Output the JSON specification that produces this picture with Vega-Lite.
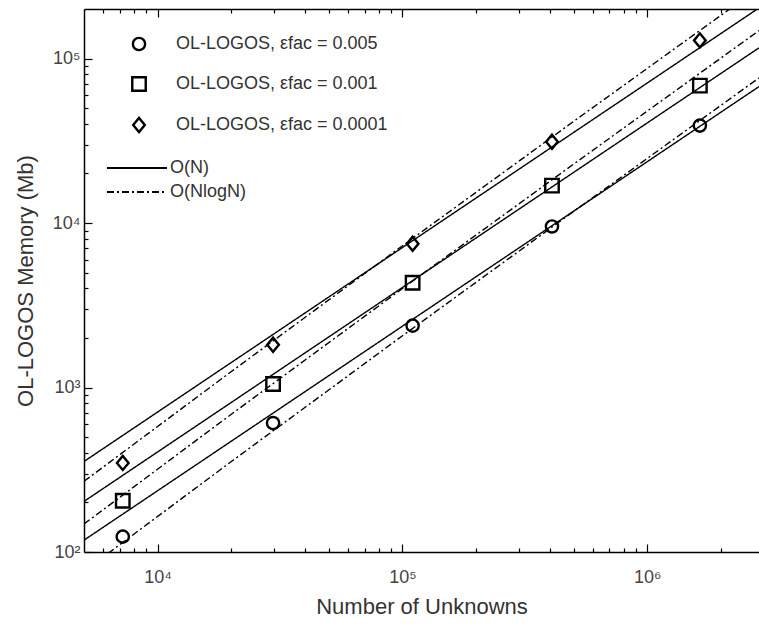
{
  "$schema": "https://vega.github.io/schema/vega-lite/v6.json",
  "width": 675,
  "height": 543,
  "autosize": {"type": "none"},
  "padding": {"left": 84, "top": 9, "right": 0, "bottom": 73},
  "background": "white",
  "config": {
    "view": {"stroke": null},
    "font": "Liberation Sans",
    "axis": {"labelFont": "Liberation Sans", "titleFont": "Liberation Sans"},
    "legend": {"labelFont": "Liberation Sans", "labelLimit": 400}
  },
  "datasets": {
    "lines": [
      {"line": "C-N", "fit": "O(N)", "N": 5000, "mem": 118},
      {"line": "C-N", "fit": "O(N)", "N": 2860000, "mem": 67500},
      {"line": "S-N", "fit": "O(N)", "N": 5000, "mem": 203},
      {"line": "S-N", "fit": "O(N)", "N": 2860000, "mem": 116120},
      {"line": "D-N", "fit": "O(N)", "N": 5000, "mem": 355},
      {"line": "D-N", "fit": "O(N)", "N": 2860000, "mem": 203060},
      {"line": "C-NlogN", "fit": "O(NlogN)", "N": 5000, "mem": 76.3},
      {"line": "C-NlogN", "fit": "O(NlogN)", "N": 20000, "mem": 355},
      {"line": "C-NlogN", "fit": "O(NlogN)", "N": 100000, "mem": 2063},
      {"line": "C-NlogN", "fit": "O(NlogN)", "N": 500000, "mem": 11760},
      {"line": "C-NlogN", "fit": "O(NlogN)", "N": 2860000, "mem": 76200},
      {"line": "S-NlogN", "fit": "O(NlogN)", "N": 5000, "mem": 148},
      {"line": "S-NlogN", "fit": "O(NlogN)", "N": 20000, "mem": 688},
      {"line": "S-NlogN", "fit": "O(NlogN)", "N": 100000, "mem": 4001},
      {"line": "S-NlogN", "fit": "O(NlogN)", "N": 500000, "mem": 22800},
      {"line": "S-NlogN", "fit": "O(NlogN)", "N": 2860000, "mem": 147750},
      {"line": "D-NlogN", "fit": "O(NlogN)", "N": 5000, "mem": 269},
      {"line": "D-NlogN", "fit": "O(NlogN)", "N": 20000, "mem": 1251},
      {"line": "D-NlogN", "fit": "O(NlogN)", "N": 100000, "mem": 7273},
      {"line": "D-NlogN", "fit": "O(NlogN)", "N": 500000, "mem": 41450},
      {"line": "D-NlogN", "fit": "O(NlogN)", "N": 2860000, "mem": 268600}
    ],
    "points": [
      {"series": "OL-LOGOS, εfac = 0.005", "N": 7200, "mem": 124},
      {"series": "OL-LOGOS, εfac = 0.005", "N": 29600, "mem": 608},
      {"series": "OL-LOGOS, εfac = 0.005", "N": 110000, "mem": 2377},
      {"series": "OL-LOGOS, εfac = 0.005", "N": 408000, "mem": 9530},
      {"series": "OL-LOGOS, εfac = 0.005", "N": 1640000, "mem": 39100},
      {"series": "OL-LOGOS, εfac = 0.001", "N": 7200, "mem": 205},
      {"series": "OL-LOGOS, εfac = 0.001", "N": 29600, "mem": 1050},
      {"series": "OL-LOGOS, εfac = 0.001", "N": 110000, "mem": 4335},
      {"series": "OL-LOGOS, εfac = 0.001", "N": 408000, "mem": 16870},
      {"series": "OL-LOGOS, εfac = 0.001", "N": 1640000, "mem": 68400},
      {"series": "OL-LOGOS, εfac = 0.0001", "N": 7200, "mem": 348},
      {"series": "OL-LOGOS, εfac = 0.0001", "N": 29600, "mem": 1820},
      {"series": "OL-LOGOS, εfac = 0.0001", "N": 110000, "mem": 7480},
      {"series": "OL-LOGOS, εfac = 0.0001", "N": 408000, "mem": 31190},
      {"series": "OL-LOGOS, εfac = 0.0001", "N": 1640000, "mem": 128900}
    ]
  },
  "layer": [
    {
      "data": {"name": "lines"},
      "mark": {"type": "line", "clip": true, "color": "black", "strokeWidth": 1.4},
      "encoding": {
        "x": {
          "field": "N", "type": "quantitative",
          "scale": {"type": "log", "domain": [5000, 2860000], "nice": false},
          "axis": {
            "orient": "bottom",
            "values": [6000, 7000, 8000, 9000, 10000, 20000, 30000, 40000, 50000, 60000, 70000, 80000, 90000, 100000, 200000, 300000, 400000, 500000, 600000, 700000, 800000, 900000, 1000000, 2000000],
            "labelExpr": "datum.value == 10000 ? '10⁴' : datum.value == 100000 ? '10⁵' : datum.value == 1000000 ? '10⁶' : ''",
            "tickSize": {"condition": {"test": "datum.value == 10000 || datum.value == 100000 || datum.value == 1000000", "value": -8}, "value": -4},
            "tickColor": "black", "tickWidth": 1.2,
            "domainColor": "black", "domainWidth": 1.5,
            "labelFontSize": 18, "labelColor": "#444", "labelPadding": 24,
            "labelOverlap": false, "labelFlush": false, "grid": false,
            "title": "Number of Unknowns", "titleFontSize": 22, "titleFontWeight": "normal",
            "titleColor": "#333", "titleX": 337.5, "titleY": 61, "titleBaseline": "alphabetic"
          }
        },
        "y": {
          "field": "mem", "type": "quantitative",
          "scale": {"type": "log", "domain": [100, 200000], "nice": false},
          "axis": {
            "orient": "left",
            "values": [100, 200, 300, 400, 500, 600, 700, 800, 900, 1000, 2000, 3000, 4000, 5000, 6000, 7000, 8000, 9000, 10000, 20000, 30000, 40000, 50000, 60000, 70000, 80000, 90000, 100000],
            "labelExpr": "datum.value == 100 ? '10²' : datum.value == 1000 ? '10³' : datum.value == 10000 ? '10⁴' : datum.value == 100000 ? '10⁵' : ''",
            "tickSize": {"condition": {"test": "datum.value == 100 || datum.value == 1000 || datum.value == 10000 || datum.value == 100000", "value": -8}, "value": -4},
            "tickColor": "black", "tickWidth": 1.2,
            "domainColor": "black", "domainWidth": 1.5,
            "labelFontSize": 18, "labelColor": "#444", "labelPadding": 12,
            "labelOverlap": false, "labelFlush": false, "grid": false,
            "title": "OL-LOGOS Memory (Mb)", "titleFontSize": 22, "titleFontWeight": "normal",
            "titleColor": "#333", "titleX": -52, "titleY": 271.5, "titleBaseline": "alphabetic"
          }
        },
        "detail": {"field": "line", "type": "nominal"},
        "strokeDash": {
          "field": "fit", "type": "nominal",
          "scale": {"domain": ["O(N)", "O(NlogN)"], "range": [[1, 0], [7, 3, 2, 3]]},
          "legend": {
            "title": null, "orient": "none", "legendX": 44, "legendY": 150,
            "symbolType": "M-5,0H5", "symbolSize": 144, "symbolStrokeWidth": 2,
            "symbolStrokeColor": "black", "labelFontSize": 18, "labelColor": "#333",
            "labelOffset": 24, "rowPadding": 6, "padding": 0
          }
        }
      }
    },
    {
      "data": {"name": "points"},
      "mark": {"type": "point", "filled": false, "color": "black", "strokeWidth": 2.4, "size": 150, "opacity": 1},
      "encoding": {
        "x": {
          "field": "N", "type": "quantitative",
          "scale": {"type": "log", "domain": [5000, 2860000], "nice": false},
          "axis": {
            "orient": "top",
            "values": [6000, 7000, 8000, 9000, 10000, 20000, 30000, 40000, 50000, 60000, 70000, 80000, 90000, 100000, 200000, 300000, 400000, 500000, 600000, 700000, 800000, 900000, 1000000, 2000000],
            "labels": false,
            "tickSize": {"condition": {"test": "datum.value == 10000 || datum.value == 100000 || datum.value == 1000000", "value": -8}, "value": -4},
            "tickColor": "black", "tickWidth": 1.2,
            "domainColor": "black", "domainWidth": 1.5,
            "grid": false, "title": null
          }
        },
        "y": {
          "field": "mem", "type": "quantitative",
          "scale": {"type": "log", "domain": [100, 200000], "nice": false}
        },
        "shape": {
          "field": "series", "type": "nominal",
          "scale": {
            "domain": ["OL-LOGOS, εfac = 0.005", "OL-LOGOS, εfac = 0.001", "OL-LOGOS, εfac = 0.0001"],
            "range": ["circle", "M-1.1,-1.1H1.1V1.1H-1.1Z", "M-0.95,0L0,-1.15L0.95,0L0,1.15Z"]
          },
          "legend": {
            "title": null, "orient": "none", "legendX": 46, "legendY": 26,
            "symbolSize": 150, "symbolStrokeWidth": 2.4, "symbolStrokeColor": "black",
            "symbolFillColor": "transparent", "labelFontSize": 18, "labelColor": "#333",
            "labelOffset": 28, "rowPadding": 17, "padding": 0
          }
        }
      }
    }
  ],
  "resolve": {"axis": {"x": "independent"}}
}
